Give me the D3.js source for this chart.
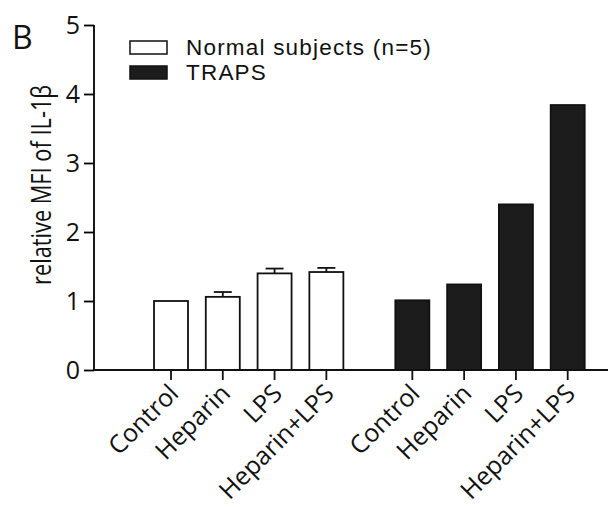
<!DOCTYPE html>
<html>
<head>
<meta charset="utf-8">
<script src="https://cdn.jsdelivr.net/npm/d3@7"></script>
<style>
  body { margin: 0; background: #fff; }
  svg { display: block; }
</style>
</head>
<body>
<div class="chart"></div>
<script>
const groups = ["Normal subjects (n=5)", "TRAPS"];
const treatments = ["Control", "Heparin", "LPS", "Heparin+LPS"];
const normalValues = [1.0, 1.06, 1.4, 1.42];
const normalErrors = [0, 0.07, 0.07, 0.06];
const trapsValues = [1.01, 1.24, 2.4, 3.84];
const yTicks = [0, 1, 2, 3, 4, 5];

const data = [];
treatments.forEach(function (t, i) {
  data.push({ group: 0, i: i, label: t, value: normalValues[i], err: normalErrors[i] });
});
treatments.forEach(function (t, i) {
  data.push({ group: 1, i: i, label: t, value: trapsValues[i], err: 0 });
});

const width = 610;
const height = 507;
const x0 = 94;
const barWidth = 34;

const svg = d3
  .select(".chart")
  .append("svg")
  .attr("width", width)
  .attr("height", height);

// slot position: 4 bars per group, plus a gap between groups
const slot = (d) => d.i + d.group * 4.66;

const xScale = d3.scaleLinear().domain([0, 7.66]).range([171, 567.7]);
const yScale = d3.scaleLinear().domain([0, 5]).range([370, 25]);

svg
  .selectAll(".bar")
  .data(data)
  .enter()
  .append("rect")
  .attr("class", "bar")
  .attr("x", (d) => xScale(slot(d)) - barWidth / 2)
  .attr("y", (d) => yScale(d.value))
  .attr("width", barWidth)
  .attr("height", (d) => yScale(0) - yScale(d.value))
  .attr("fill", (d) => (d.group === 0 ? "#fff" : "#1c1c1c"))
  .attr("stroke", "#111")
  .attr("stroke-width", 1.8);

// error bars (upper only)
const errs = svg
  .selectAll(".err")
  .data(data.filter((d) => d.err > 0))
  .enter()
  .append("g")
  .attr("stroke", "#111")
  .attr("stroke-width", 1.8);

errs
  .append("line")
  .attr("x1", (d) => xScale(slot(d)))
  .attr("x2", (d) => xScale(slot(d)))
  .attr("y1", (d) => yScale(d.value))
  .attr("y2", (d) => yScale(d.value + d.err));

errs
  .append("line")
  .attr("x1", (d) => xScale(slot(d)) - 9)
  .attr("x2", (d) => xScale(slot(d)) + 9)
  .attr("y1", (d) => yScale(d.value + d.err))
  .attr("y2", (d) => yScale(d.value + d.err));

// y axis
const yAxis = svg
  .append("g")
  .attr("transform", "translate(" + x0 + ",0)")
  .call(d3.axisLeft(yScale).tickValues(yTicks).tickSize(10).tickPadding(4).tickFormat(d3.format("d")));
yAxis.select(".domain").attr("d", "M0," + yScale(5) + "V" + yScale(0)).attr("stroke-width", 1.8);
yAxis.selectAll(".tick line").attr("stroke-width", 1.8);
yAxis
  .selectAll(".tick text")
  .style("font-family", "'Open Sans', sans-serif")
  .style("font-size", "25px")
  .attr("fill", "#111");

// x axis baseline and ticks
svg
  .append("line")
  .attr("x1", x0)
  .attr("x2", 608)
  .attr("y1", yScale(0))
  .attr("y2", yScale(0))
  .attr("stroke", "#111")
  .attr("stroke-width", 1.8);

svg
  .selectAll(".xtick")
  .data(data)
  .enter()
  .append("line")
  .attr("x1", (d) => xScale(slot(d)))
  .attr("x2", (d) => xScale(slot(d)))
  .attr("y1", yScale(0))
  .attr("y2", yScale(0) + 10)
  .attr("stroke", "#111")
  .attr("stroke-width", 1.8);

svg
  .selectAll(".xlabel")
  .data(data)
  .enter()
  .append("text")
  .attr("transform", (d) => "translate(" + (xScale(slot(d)) + 9) + "," + (yScale(0) + 25) + ") rotate(-45)")
  .attr("text-anchor", "end")
  .style("font-family", "'Open Sans', sans-serif")
  .style("font-size", "25px")
  .attr("fill", "#111")
  .text((d) => d.label);

// y axis title
svg
  .append("text")
  .attr("transform", "rotate(-90)")
  .attr("x", -185)
  .attr("y", 51)
  .attr("text-anchor", "middle")
  .attr("textLength", 200)
  .attr("lengthAdjust", "spacingAndGlyphs")
  .style("font-family", "'Open Sans', sans-serif")
  .style("font-size", "27px")
  .attr("fill", "#111")
  .text("relative MFI of IL-1β");

// panel letter
svg
  .append("text")
  .attr("x", 12)
  .attr("y", 49)
  .style("font-family", "'Open Sans', sans-serif")
  .style("font-size", "32px")
  .attr("fill", "#111")
  .text("B");

// legend
const legend = svg
  .selectAll(".legend")
  .data(groups)
  .enter()
  .append("g")
  .attr("transform", (d, i) => "translate(130," + (41 + i * 25) + ")");

legend
  .append("rect")
  .attr("width", 37)
  .attr("height", 13)
  .attr("fill", (d, i) => (i === 0 ? "#fff" : "#1c1c1c"))
  .attr("stroke", "#111")
  .attr("stroke-width", 1.5);

legend
  .append("text")
  .attr("x", 56)
  .attr("y", 14)
  .style("font-family", "'Liberation Sans', Arial, sans-serif")
  .style("font-size", "22.5px")
  .style("letter-spacing", "1.2px")
  .attr("fill", "#111")
  .text((d) => d);
</script>
</body>
</html>
